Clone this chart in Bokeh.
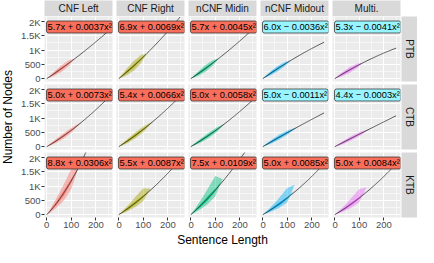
import numpy as np
from bokeh.plotting import figure
from bokeh.models import Range1d, FixedTicker, LinearAxis, Label, Spacer
from bokeh.layouts import row, column
from bokeh.core.properties import value
from bokeh.embed import file_html
from bokeh.resources import INLINE

# ---------------- data ----------------
methods = ["CNF Left", "CNF Right", "nCNF Midin", "nCNF Midout", "Multi."]
treebanks = ["PTB", "CTB", "KTB"]
colors = ["#F8766D", "#A3A500", "#00BF7D", "#00B0F6", "#E76BF3"]
x_title = "Sentence Length"
y_title = "Number of Nodes"

# fitted curves: nodes = a*x + b*x^2
ptb_a = [5.7, 6.9, 5.7, 6.0, 5.3]
ptb_b = [0.0037, 0.0069, 0.0045, -0.0036, -0.0041]
ctb_a = [5.0, 5.4, 5.0, 5.0, 4.4]
ctb_b = [0.0073, 0.0066, 0.0058, -0.0011, -0.0003]
ktb_a = [8.8, 5.5, 7.5, 5.0, 5.0]
ktb_b = [0.0306, 0.0087, 0.0109, 0.0085, 0.0084]
curve_x_end = 250

x_ticks = [0, 100, 200]
x_tick_labels = ["0", "100", "200"]
y_ticks = [0, 500, 1000, 1500, 2000]
y_tick_labels = ["0", "500", "1K", "1.5K", "2K"]

# point-cloud envelopes
ptb_x = [0, 15, 35, 60, 90, 115]
ptb_outer_lo = [[0, 43, 118, 238, 445, 704], [0, 47, 130, 272, 528, 885], [0, 43, 119, 240, 451, 715],
                [0, 49, 132, 250, 434, 642], [0, 40, 105, 203, 364, 555]]
ptb_outer_hi = [[0, 129, 290, 472, 641, 704], [0, 163, 370, 606, 826, 885], [0, 130, 291, 476, 649, 715],
                [0, 129, 280, 444, 588, 642], [0, 119, 256, 403, 524, 555]]
ptb_core_lo = [[0, 67, 167, 312, 516, 704], [0, 82, 205, 386, 643, 885], [0, 67, 168, 315, 522, 715],
               [0, 71, 173, 312, 491, 642], [0, 62, 148, 267, 422, 555]]
ptb_core_hi = [[0, 105, 241, 398, 570, 704], [0, 128, 295, 492, 711, 885], [0, 106, 242, 401, 577, 715],
               [0, 107, 239, 382, 531, 642], [0, 96, 213, 339, 466, 555]]

ctb_x = [0, 15, 40, 70, 105, 140]
ctb_outer_lo = [[0, 42, 138, 290, 520, 843], [0, 45, 148, 308, 550, 885], [0, 42, 136, 284, 507, 814],
                [0, 41, 129, 259, 441, 678], [0, 36, 114, 230, 395, 610]]
ctb_outer_hi = [[0, 112, 286, 483, 690, 843], [0, 120, 306, 513, 730, 885], [0, 110, 282, 473, 671, 814],
                [0, 109, 267, 431, 585, 678], [0, 96, 237, 383, 523, 610]]
ctb_core_lo = [[0, 62, 180, 347, 581, 843], [0, 66, 193, 369, 614, 885], [0, 61, 178, 340, 565, 814],
               [0, 60, 168, 311, 492, 678], [0, 53, 149, 276, 441, 610]]
ctb_core_hi = [[0, 92, 244, 425, 629, 843], [0, 99, 261, 451, 666, 885], [0, 91, 240, 416, 613, 814],
               [0, 90, 228, 380, 534, 678], [0, 79, 202, 337, 477, 610]]

ktb_x = [0, 15, 40, 70, 100, 130]
ktb_outer_lo = [[0, 76, 241, 498, 890, 1661], [0, 46, 140, 278, 478, 905], [0, 63, 190, 376, 644, 1250],
                [0, 42, 128, 255, 439, 1050], [0, 42, 128, 254, 438, 960]]
ktb_outer_hi = [[0, 209, 581, 1072, 1601, 1661], [0, 131, 351, 642, 924, 905], [0, 178, 500, 920, 1350, 1250],
                [0, 119, 330, 620, 930, 1050], [0, 119, 325, 610, 900, 960]]
ktb_core_lo = [[0, 111, 333, 666, 1115, 1661], [0, 68, 194, 372, 599, 905], [0, 92, 263, 503, 807, 1217],
               [0, 62, 178, 341, 550, 834], [0, 62, 177, 340, 549, 832]]
ktb_core_hi = [[0, 167, 469, 866, 1257, 1661], [0, 101, 274, 484, 675, 905], [0, 138, 371, 653, 911, 1217],
               [0, 92, 250, 443, 620, 834], [0, 92, 249, 442, 619, 832]]

rows_data = [
    (ptb_a, ptb_b, ptb_x, ptb_outer_lo, ptb_outer_hi, ptb_core_lo, ptb_core_hi),
    (ctb_a, ctb_b, ctb_x, ctb_outer_lo, ctb_outer_hi, ctb_core_lo, ctb_core_hi),
    (ktb_a, ktb_b, ktb_x, ktb_outer_lo, ktb_outer_hi, ktb_core_lo, ktb_core_hi),
]

# ---------------- styling / layout ----------------
FONT = "Liberation Sans"
XR = (-9, 268)
YR = (-98, 2175)
FRAME_W, FRAME_H = 68, 65
YT_W = 14           # y-title column width
AX_W = 30           # y-axis border width
GAP_X, GAP_Y = 4, 3
BOTTOM_H = 15       # x-axis border
XT_H = 16           # x-title row height
STRIP_H, STRIP_W = 16, 16
RED, CYAN = "#FA6F5C", "#98F5FF"
LABEL_DX_PX, LABEL_DY_PX = 2, 4.5


def blank_fig(w, h, left=0, right=0, top=0, bottom=0, bg="white"):
    f = figure(width=w, height=h, x_range=Range1d(0, 1), y_range=Range1d(0, 1),
               x_axis_location=None, y_axis_location=None,
               toolbar_location=None, output_backend="svg",
               min_border_left=left, min_border_right=right,
               min_border_top=top, min_border_bottom=bottom,
               background_fill_color=bg, border_fill_color="white",
               outline_line_color=None)
    f.grid.visible = False
    return f


def style_axis(ax):
    ax.axis_line_color = None
    ax.major_tick_out = 3
    ax.major_tick_in = 0
    ax.minor_tick_out = 0
    ax.minor_tick_in = 0
    ax.major_tick_line_color = "#333333"
    ax.major_label_text_color = "#4D4D4D"
    ax.major_label_text_font = FONT
    ax.major_label_text_font_size = "9.5px"
    ax.major_label_standoff = 1


def make_panel(ri, ci):
    a_list, b_list, cx, olo, ohi, clo, chi = rows_data[ri]
    left = AX_W if ci == 0 else 0
    right = GAP_X if ci < 4 else 1
    bottom = BOTTOM_H if ri == 2 else GAP_Y
    p = figure(width=left + FRAME_W + right, height=FRAME_H + bottom,
               x_range=Range1d(*XR), y_range=Range1d(*YR),
               x_axis_location=None, y_axis_location=None,
               toolbar_location=None, output_backend="svg",
               min_border_left=left, min_border_right=right,
               min_border_top=0, min_border_bottom=bottom,
               background_fill_color="#EBEBEB", border_fill_color="white",
               outline_line_color=None)
    p.xgrid.ticker = FixedTicker(ticks=x_ticks, minor_ticks=[50, 150, 250])
    p.ygrid.ticker = FixedTicker(ticks=y_ticks, minor_ticks=[250, 750, 1250, 1750])
    for g in (p.xgrid, p.ygrid):
        g.grid_line_color = "white"
        g.grid_line_width = 1.1
        g.minor_grid_line_color = "white"
        g.minor_grid_line_width = 0.55

    if ri == 2:
        ax = LinearAxis(ticker=FixedTicker(ticks=x_ticks))
        ax.major_label_overrides = dict(zip(x_ticks, x_tick_labels))
        style_axis(ax)
        p.add_layout(ax, "below")
    if ci == 0:
        ay = LinearAxis(ticker=FixedTicker(ticks=y_ticks))
        ay.major_label_overrides = dict(zip(y_ticks, y_tick_labels))
        style_axis(ay)
        p.add_layout(ay, "left")

    col = colors[ci]
    p.varea(x=cx, y1=olo[ci], y2=ohi[ci], fill_color=col, fill_alpha=0.45)
    p.varea(x=cx, y1=clo[ci], y2=chi[ci], fill_color=col, fill_alpha=0.85)

    a, b = a_list[ci], b_list[ci]
    xs = np.linspace(0, curve_x_end, 60)
    p.line(xs, a * xs + b * xs ** 2, line_color="#333333", line_alpha=0.8, line_width=1)

    sign = "+" if b >= 0 else "\u2212"
    txt = f"{a:.1f}x {sign} {abs(b):.4f}x\u00b2"
    ux = (XR[1] - XR[0]) / FRAME_W
    uy = (YR[1] - YR[0]) / FRAME_H
    lab = Label(x=XR[0] + LABEL_DX_PX * ux, y=YR[1] - LABEL_DY_PX * uy, text=txt,
                text_align="left", text_baseline="top",
                text_font=FONT, text_font_size="9.3px", text_color="black",
                background_fill_color=RED if b >= 0 else CYAN, background_fill_alpha=1,
                border_line_color="#222222", border_line_width=0.7,
                padding=1, border_radius=2)
    p.add_layout(lab)
    return p


def make_strip(text, w, h, right=0, bottom=0, angle=0.0):
    s = blank_fig(w + right, h + bottom, right=right, bottom=bottom, bg="#D9D9D9")
    s.text(x=[0.5], y=[0.5], text=[text], angle=angle,
           text_align="center", text_baseline="middle",
           text_font=value(FONT), text_font_size="10px", text_color="#1A1A1A")
    return s


# top strips
top = [Spacer(width=YT_W + AX_W, height=STRIP_H)]
for ci, m in enumerate(methods):
    top.append(make_strip(m, FRAME_W, STRIP_H, right=GAP_X if ci < 4 else 1))
top.append(Spacer(width=STRIP_W, height=STRIP_H))

# panel rows
panel_rows = []
for ri, tb in enumerate(treebanks):
    bottom = BOTTOM_H if ri == 2 else GAP_Y
    kids = [make_panel(ri, ci) for ci in range(5)]
    kids.append(make_strip(tb, STRIP_W, FRAME_H, bottom=bottom, angle=-np.pi / 2))
    panel_rows.append(row(*kids, spacing=0))

grid_h = 3 * FRAME_H + 2 * GAP_Y + BOTTOM_H

# y title
yt = blank_fig(YT_W, grid_h, bottom=BOTTOM_H)
yt.text(x=[0.5], y=[0.5], text=[y_title], angle=np.pi / 2,
        text_align="center", text_baseline="middle",
        text_font=value(FONT), text_font_size="12px", text_color="black")

# x title
panels_w = 5 * FRAME_W + 4 * GAP_X
xt = blank_fig(YT_W + AX_W + panels_w + 1 + STRIP_W, XT_H,
               left=YT_W + AX_W, right=1 + STRIP_W)
xt.text(x=[0.5], y=[0.55], text=[x_title],
        text_align="center", text_baseline="middle",
        text_font=value(FONT), text_font_size="12px", text_color="black")

layout = column(row(*top, spacing=0),
                row(yt, column(*panel_rows, spacing=0), spacing=0),
                xt, spacing=0)

open("out.html", "w").write(file_html(layout, INLINE))
